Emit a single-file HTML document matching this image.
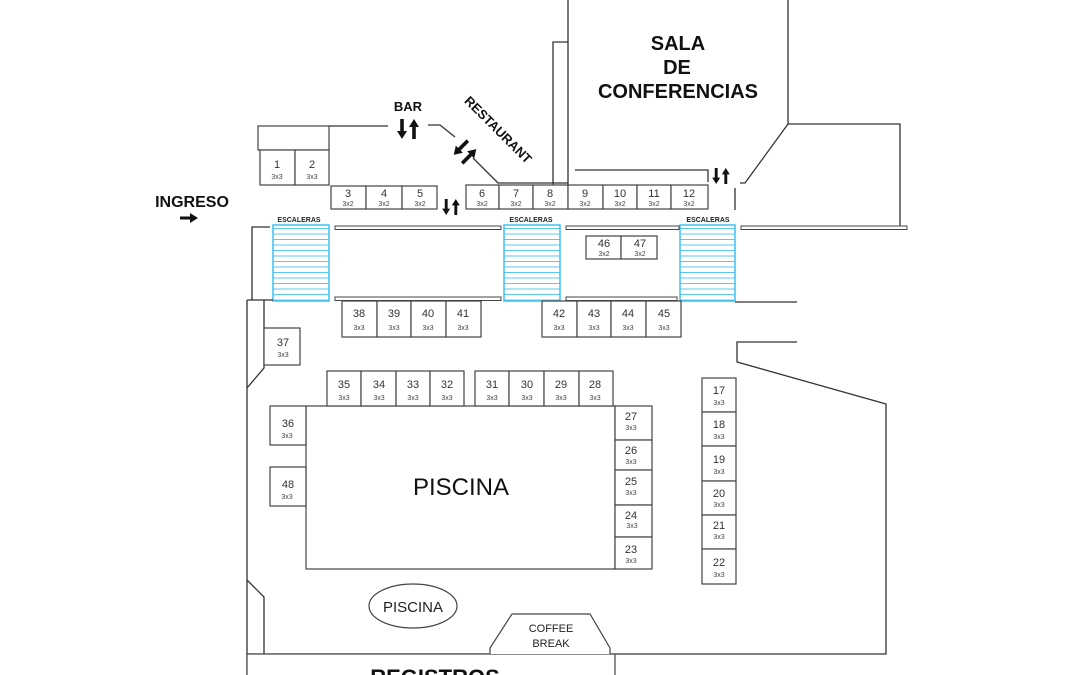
<!DOCTYPE html>
<html><head><meta charset="utf-8"><style>
html,body{margin:0;padding:0;background:#fff;}
svg{display:block;font-family:"Liberation Sans",sans-serif;}
.b{fill:#fff;stroke:#444;stroke-width:1.2}
.l{fill:none;stroke:#333;stroke-width:1.3}
.n{font-size:11px;fill:#333;text-anchor:middle}
.s{font-size:7px;fill:#444;text-anchor:middle}
.t{font-weight:bold;fill:#111;text-anchor:middle}
</style></head><body>
<svg width="1080" height="675" viewBox="0 0 1080 675">
<defs>
<pattern id="st" width="10" height="5.5" patternUnits="userSpaceOnUse"><line x1="0" y1="3" x2="10" y2="3" stroke="#5cc8ef" stroke-width="1"/></pattern>
<path id="ad" d="M-1.8,0 H1.8 V12 H5 L0,20 L-5,12 H-1.8 Z" fill="#111"/>
<g id="pair"><use href="#ad" transform="translate(-6,-10)"/><use href="#ad" transform="translate(6,10) rotate(180)"/></g>
</defs>
<path class="l" d="M568,0 V185 M788,0 V124 H900 V227 M788,124 L745,183 H740 M553,185 V42 H568 M575,170 H708 V182 M735,188 V210"/>
<rect class="b" x="258" y="126" width="71" height="24"/>
<path class="l" d="M329,126 H388 M428,125 H440 L455,137 M473,158 L498,183 H568"/>
<rect x="273" y="225" width="56" height="76" fill="url(#st)" stroke="#3ec0ee" stroke-width="1.5"/>
<rect x="504" y="225" width="56" height="76" fill="url(#st)" stroke="#3ec0ee" stroke-width="1.5"/>
<rect x="680" y="225" width="55" height="76" fill="url(#st)" stroke="#3ec0ee" stroke-width="1.5"/>
<g font-size="7" font-weight="bold" fill="#222" text-anchor="middle">
<text x="299" y="222">ESCALERAS</text><text x="531" y="222">ESCALERAS</text><text x="708" y="222">ESCALERAS</text></g>
<g fill="#fff" stroke="#444" stroke-width="1">
<rect x="335" y="226" width="166" height="3.5"/><rect x="335" y="297" width="166" height="3.5"/>
<rect x="566" y="226" width="113" height="3.5"/><rect x="566" y="297" width="111" height="3.5"/>
<rect x="741" y="226" width="166" height="3.5"/></g>
<path class="l" d="M270,227 H252 V300 M247,300 H273 M264,300 V368 L247,388 M247,300 V675 M247,580 L264,597 V654 M247,654 H886 V404 L737,362 V342 H797 M735,302 H797 M560,302 H566"/>
<rect class="b" x="247" y="654" width="368" height="30"/>
<text class="t" x="435" y="685" font-size="22">REGISTROS</text>
<path class="b" d="M490,654 V648 L512,614 H590 L610,648 V654"/>
<text x="551" y="632" font-size="11" fill="#222" text-anchor="middle">COFFEE</text>
<text x="551" y="647" font-size="11" fill="#222" text-anchor="middle">BREAK</text>
<ellipse class="b" cx="413" cy="606" rx="44" ry="22"/>
<text x="413" y="612" font-size="15" fill="#222" text-anchor="middle">PISCINA</text>
<rect class="b" x="306" y="406" width="309" height="163"/>
<text x="461" y="495" font-size="24" fill="#111" text-anchor="middle">PISCINA</text>
<g id="booths">
<rect class="b" x="260" y="150" width="35" height="35"/><text class="n" x="277" y="168">1</text><text class="s" x="277" y="179">3x3</text>
<rect class="b" x="295" y="150" width="34" height="35"/><text class="n" x="312" y="168">2</text><text class="s" x="312" y="179">3x3</text>
<rect class="b" x="331" y="186" width="35" height="23"/><text class="n" x="348" y="197">3</text><text class="s" x="348" y="206">3x2</text>
<rect class="b" x="366" y="186" width="36" height="23"/><text class="n" x="384" y="197">4</text><text class="s" x="384" y="206">3x2</text>
<rect class="b" x="402" y="186" width="35" height="23"/><text class="n" x="420" y="197">5</text><text class="s" x="420" y="206">3x2</text>
<rect class="b" x="466" y="185" width="33" height="24"/><text class="n" x="482" y="197">6</text><text class="s" x="482" y="206">3x2</text>
<rect class="b" x="499" y="185" width="34" height="24"/><text class="n" x="516" y="197">7</text><text class="s" x="516" y="206">3x2</text>
<rect class="b" x="533" y="185" width="35" height="24"/><text class="n" x="550" y="197">8</text><text class="s" x="550" y="206">3x2</text>
<rect class="b" x="568" y="185" width="35" height="24"/><text class="n" x="585" y="197">9</text><text class="s" x="585" y="206">3x2</text>
<rect class="b" x="603" y="185" width="34" height="24"/><text class="n" x="620" y="197">10</text><text class="s" x="620" y="206">3x2</text>
<rect class="b" x="637" y="185" width="34" height="24"/><text class="n" x="654" y="197">11</text><text class="s" x="654" y="206">3x2</text>
<rect class="b" x="671" y="185" width="37" height="24"/><text class="n" x="689" y="197">12</text><text class="s" x="689" y="206">3x2</text>
<rect class="b" x="586" y="236" width="35" height="23"/><text class="n" x="604" y="247">46</text><text class="s" x="604" y="256">3x2</text>
<rect class="b" x="621" y="236" width="36" height="23"/><text class="n" x="640" y="247">47</text><text class="s" x="640" y="256">3x2</text>
<rect class="b" x="342" y="301" width="35" height="36"/><text class="n" x="359" y="317">38</text><text class="s" x="359" y="330">3x3</text>
<rect class="b" x="377" y="301" width="34" height="36"/><text class="n" x="394" y="317">39</text><text class="s" x="394" y="330">3x3</text>
<rect class="b" x="411" y="301" width="35" height="36"/><text class="n" x="428" y="317">40</text><text class="s" x="428" y="330">3x3</text>
<rect class="b" x="446" y="301" width="35" height="36"/><text class="n" x="463" y="317">41</text><text class="s" x="463" y="330">3x3</text>
<rect class="b" x="542" y="301" width="35" height="36"/><text class="n" x="559" y="317">42</text><text class="s" x="559" y="330">3x3</text>
<rect class="b" x="577" y="301" width="34" height="36"/><text class="n" x="594" y="317">43</text><text class="s" x="594" y="330">3x3</text>
<rect class="b" x="611" y="301" width="35" height="36"/><text class="n" x="628" y="317">44</text><text class="s" x="628" y="330">3x3</text>
<rect class="b" x="646" y="301" width="35" height="36"/><text class="n" x="664" y="317">45</text><text class="s" x="664" y="330">3x3</text>
<rect class="b" x="264" y="328" width="36" height="37"/><text class="n" x="283" y="346">37</text><text class="s" x="283" y="357">3x3</text>
<rect class="b" x="327" y="371" width="34" height="35"/><text class="n" x="344" y="388">35</text><text class="s" x="344" y="400">3x3</text>
<rect class="b" x="361" y="371" width="35" height="35"/><text class="n" x="379" y="388">34</text><text class="s" x="379" y="400">3x3</text>
<rect class="b" x="396" y="371" width="34" height="35"/><text class="n" x="413" y="388">33</text><text class="s" x="413" y="400">3x3</text>
<rect class="b" x="430" y="371" width="34" height="35"/><text class="n" x="447" y="388">32</text><text class="s" x="447" y="400">3x3</text>
<rect class="b" x="475" y="371" width="34" height="35"/><text class="n" x="492" y="388">31</text><text class="s" x="492" y="400">3x3</text>
<rect class="b" x="509" y="371" width="35" height="35"/><text class="n" x="527" y="388">30</text><text class="s" x="527" y="400">3x3</text>
<rect class="b" x="544" y="371" width="35" height="35"/><text class="n" x="561" y="388">29</text><text class="s" x="561" y="400">3x3</text>
<rect class="b" x="579" y="371" width="34" height="35"/><text class="n" x="595" y="388">28</text><text class="s" x="595" y="400">3x3</text>
<rect class="b" x="270" y="406" width="36" height="39"/><text class="n" x="288" y="427">36</text><text class="s" x="287" y="438">3x3</text>
<rect class="b" x="270" y="467" width="36" height="39"/><text class="n" x="288" y="488">48</text><text class="s" x="287" y="499">3x3</text>
<rect class="b" x="615" y="406" width="37" height="34"/><text class="n" x="631" y="420">27</text><text class="s" x="631" y="430">3x3</text>
<rect class="b" x="615" y="440" width="37" height="30"/><text class="n" x="631" y="454">26</text><text class="s" x="631" y="464">3x3</text>
<rect class="b" x="615" y="470" width="37" height="35"/><text class="n" x="631" y="485">25</text><text class="s" x="631" y="495">3x3</text>
<rect class="b" x="615" y="505" width="37" height="32"/><text class="n" x="631" y="519">24</text><text class="s" x="632" y="528">3x3</text>
<rect class="b" x="615" y="537" width="37" height="32"/><text class="n" x="631" y="553">23</text><text class="s" x="631" y="563">3x3</text>
<rect class="b" x="702" y="378" width="34" height="34"/><text class="n" x="719" y="394">17</text><text class="s" x="719" y="405">3x3</text>
<rect class="b" x="702" y="412" width="34" height="34"/><text class="n" x="719" y="428">18</text><text class="s" x="719" y="439">3x3</text>
<rect class="b" x="702" y="446" width="34" height="35"/><text class="n" x="719" y="463">19</text><text class="s" x="719" y="474">3x3</text>
<rect class="b" x="702" y="481" width="34" height="34"/><text class="n" x="719" y="497">20</text><text class="s" x="719" y="507">3x3</text>
<rect class="b" x="702" y="515" width="34" height="34"/><text class="n" x="719" y="529">21</text><text class="s" x="719" y="539">3x3</text>
<rect class="b" x="702" y="549" width="34" height="35"/><text class="n" x="719" y="566">22</text><text class="s" x="719" y="577">3x3</text>
</g>
<text class="t" x="678" y="50" font-size="20">SALA</text>
<text class="t" x="677" y="74" font-size="20">DE</text>
<text class="t" x="678" y="98" font-size="20">CONFERENCIAS</text>
<text class="t" x="408" y="111" font-size="13">BAR</text>
<text class="t" x="192" y="207" font-size="16">INGRESO</text>
<text class="t" font-size="13" transform="translate(495,133) rotate(45)">RESTAURANT</text>
<use href="#pair" transform="translate(408,129)"/>
<use href="#pair" transform="translate(451,207) scale(0.8)"/>
<use href="#pair" transform="translate(721,176) scale(0.8)"/>
<use href="#pair" transform="translate(465,152) rotate(45)"/>
<path d="M180,216.5 H190 V213 L198,218 L190,223 V219.5 H180 Z" fill="#111"/>
</svg>
</body></html>
